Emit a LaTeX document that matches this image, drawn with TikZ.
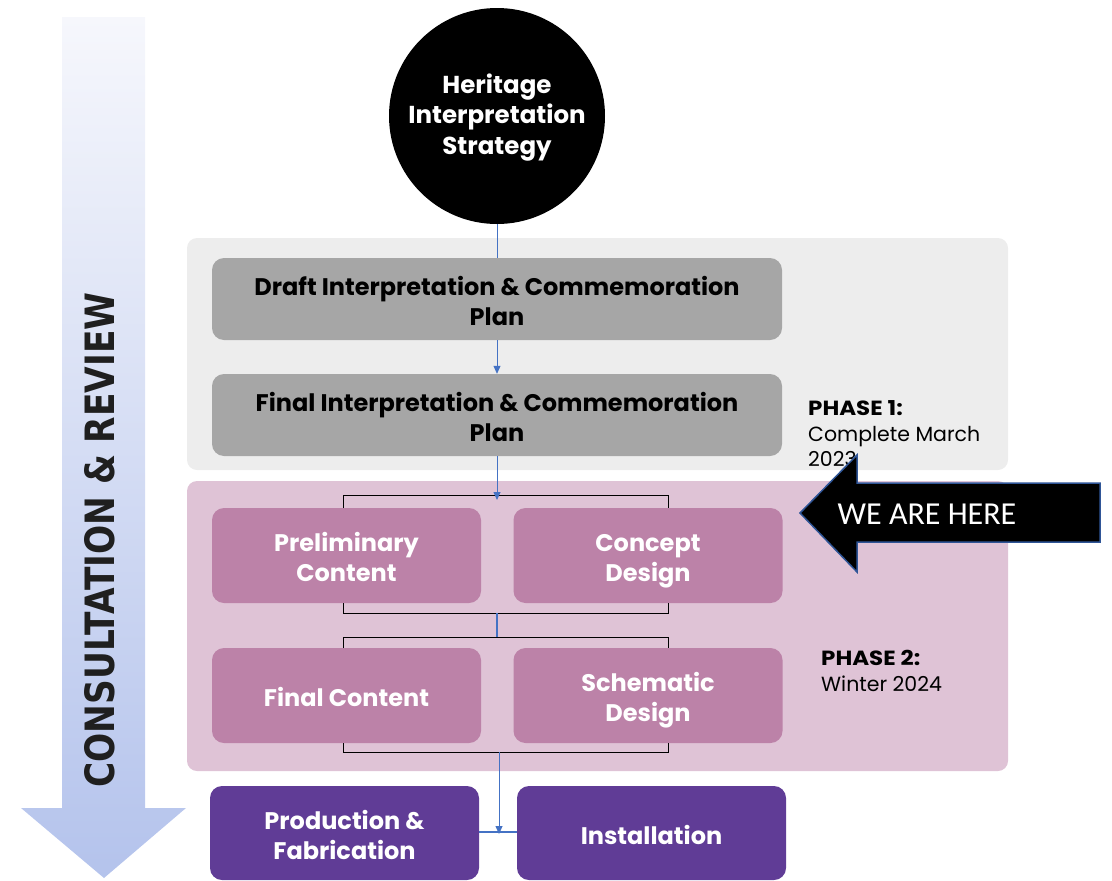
\documentclass[tikz,border=0pt]{standalone}
\usepackage{fontspec}
\setmainfont{Poppins}
\newfontfamily\crfont{DejaVu Sans}
\newfontfamily\wefont{Carlito}
\usetikzlibrary{arrows.meta}
\newcommand\topstrut{\rule{0pt}{22pt}}
\definecolor{panelgray}{HTML}{EDEDED}
\definecolor{panelpink}{HTML}{DFC3D6}
\definecolor{boxgray}{HTML}{A6A6A6}
\definecolor{boxpink}{HTML}{BC82A8}
\definecolor{boxpurple}{HTML}{603C96}
\definecolor{linkblue}{HTML}{4472C4}
\definecolor{outlineblue}{HTML}{2F5597}
\definecolor{arrtop}{HTML}{F6F7FC}
\definecolor{arrbot}{HTML}{B4C3EC}
\tikzset{
  panel/.style={rounded corners=10pt, draw=none},
  stagebox/.style={rounded corners=12pt, draw=none, align=center, inner sep=0pt,
    font=\fontsize{24}{30}\selectfont\bfseries},
  graybox/.style={stagebox, fill=boxgray, text=black, minimum width=570pt, minimum height=82pt},
  pinkbox/.style={stagebox, fill=boxpink, text=white, minimum width=269pt, minimum height=95pt},
  purplebox/.style={stagebox, fill=boxpurple, text=white, minimum width=269pt, minimum height=94pt},
  link/.style={draw=linkblue, line width=0.8pt},
  linkarrow/.style={link, -{Triangle[length=8pt,width=7pt]}},
  thicklink/.style={draw=linkblue, line width=2.5pt},
  bracket/.style={draw=black, line width=0.8pt},
  phasetext/.style={anchor=base west, inner sep=0pt, font=\fontsize{20.5}{24}\selectfont}
}
\begin{document}
\begin{tikzpicture}[x=1pt,y=-1pt]
\useasboundingbox (0,0) rectangle (1112,881);
% consultation arrow
\shade[top color=arrtop, bottom color=arrbot]
  (62,17) -- (145,17) -- (145,808) -- (186,808) -- (104,878) -- (21,808) -- (62,808) -- cycle;
\node[rotate=90, inner sep=0pt, text=black!88] (cr) at (100,540)
  {\resizebox{495pt}{30pt}{\crfont\bfseries CONSULTATION \& REVIEW}};
% panels
\fill[panelgray, panel] (187,238) rectangle (1008,470);
\fill[panelpink, panel] (187,481) rectangle (1008,771);
% circle
\node[circle, fill=black, minimum size=216pt, inner sep=0pt] (his) at (497,116) {};
\node[text=white, align=center, inner sep=0pt,
  font=\fontsize{24.5}{30.5}\selectfont\bfseries] (histext) at ([yshift=3.5pt]his.center)
  {\topstrut Heritage\\Interpretation\\\smash{Strategy}};
% phase 1 boxes
\node[graybox] (draft) at (497,299) {\topstrut Draft Interpretation \& Commemoration\\\smash{Plan}};
\node[graybox] (final) at (497,415) {\topstrut Final Interpretation \& Commemoration\\\smash{Plan}};
% phase 2 boxes
\node[pinkbox] (prelim) at (346.5,555.5) {\topstrut Preliminary\\\smash{Content}};
\node[pinkbox] (concept) at (648,555.5) {\topstrut Concept\\\smash{Design}};
\node[pinkbox] (fcontent) at (346.5,695.5) {\topstrut\smash{Final Content}};
\node[pinkbox] (schem) at (648,695.5) {\topstrut Schematic\\\smash{Design}};
% production
\node[purplebox] (prod) at (344.5,833) {\topstrut Production \&\\\smash{Fabrication}};
\node[purplebox] (inst) at (651.5,833) {\topstrut\smash{Installation}};
% brackets
\coordinate (b1) at (497,495);
\coordinate (b2) at (497,613);
\coordinate (b3) at (497,637);
\coordinate (b4) at (499,752);
\draw[bracket] (343,508) -- (343,495) -- (668,495) -- (668,508);
\draw[bracket] (343,603) -- (343,613) -- (668,613) -- (668,603);
\draw[bracket] (343,648) -- (343,637) -- (668,637) -- (668,648);
\draw[bracket] (343,743) -- (343,752) -- (668,752) -- (668,743);
% connectors
\draw[link] (his.south) -- (draft.north);
\draw[linkarrow] (draft.south) -- (final.north);
\draw[linkarrow] (final.south) -- ([yshift=-5pt]b1);
\draw[thicklink] (b2) -- (b3);
\coordinate (pi) at (499,832);
\draw[thicklink] (prod.east |- pi) -- (inst.west |- pi);
\draw[linkarrow] (b4) -- ([yshift=-2pt]pi);
% phase labels
\node[phasetext] (p1a) at (808,415) {\scalebox{1.12}[1]{\bfseries PHASE 1:}};
\node[phasetext] (p1b) at (808,441) {Complete March};
\node[phasetext] (p1c) at (808,466) {2023};
\node[phasetext] (p2a) at (821,665) {\scalebox{1.12}[1]{\bfseries PHASE 2:}};
\node[phasetext] (p2b) at (821,691) {Winter 2024};
% we are here arrow
\draw[fill=black, draw=outlineblue, line width=1.5pt, line join=miter]
  (800,513) -- (857,455) -- (857,483) -- (1100,483) -- (1100,542) -- (857,542) -- (857,572) -- cycle;
\node[text=white, font=\wefont\fontsize{32}{34}\selectfont, inner sep=0pt] (weh) at (927,514) {WE ARE HERE};
\end{tikzpicture}
\end{document}
